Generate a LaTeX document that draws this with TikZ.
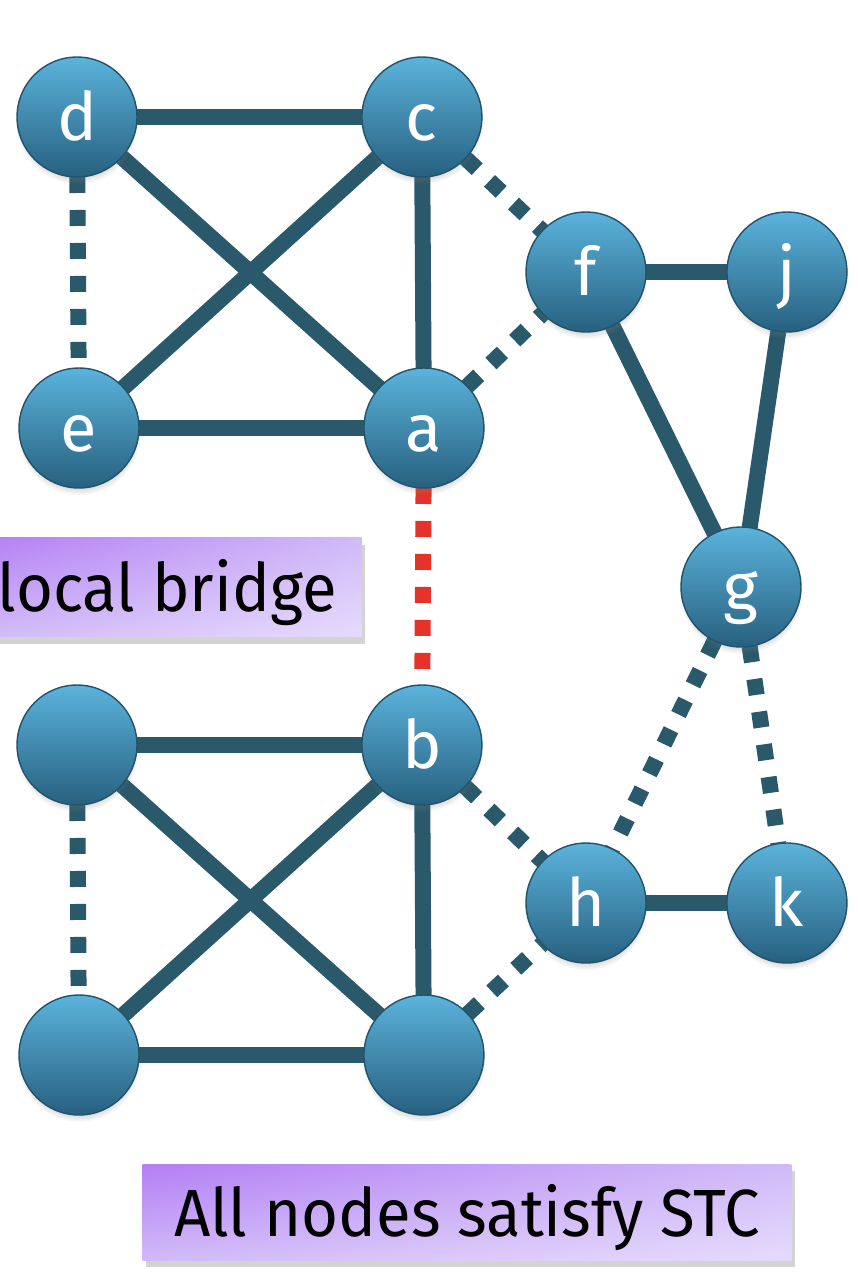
\documentclass[tikz,border=0pt]{standalone}
\usepackage{fontspec}
\setmainfont{Fira Sans}
\newfontfamily\tagfont[FakeStretch=0.95]{Fira Sans}
\usetikzlibrary{positioning, shadows, shadings, backgrounds}
\definecolor{ballTop}{HTML}{5BB3DC}
\definecolor{ballBottom}{HTML}{27607F}
\definecolor{ballEdge}{HTML}{22536A}
\definecolor{tieColor}{HTML}{29596B}
\definecolor{bridgeRed}{HTML}{E63329}
\definecolor{tagDark}{HTML}{B47EF4}
\definecolor{tagMid}{HTML}{D0BAF8}
\definecolor{tagLight}{HTML}{E6DBFC}
\tikzset{
  vertex/.style={circle, draw=ballEdge, line width=0.8pt, minimum size=2.4cm,
    inner sep=0pt, outer sep=0pt, top color=ballTop, bottom color=ballBottom,
    text=white, font=\fontsize{38}{40}\selectfont, text height=0.94cm, text depth=0pt,
    circular drop shadow={shadow xshift=0pt, shadow yshift=-3pt, opacity=0.35, shadow scale=1.03}},
  tie/.style={draw=tieColor, line width=0.32cm},
  weak/.style={tie, dash pattern=on 0.32cm off 0.34cm},
  bridge/.style={weak, draw=bridgeRed},
  tag/.style={rectangle, upper left=tagDark, upper right=tagMid, lower left=tagMid,
    lower right=tagLight,
    font=\tagfont\fontsize{38}{40}\selectfont, text height=0.96cm, text depth=0pt,
    drop shadow={shadow xshift=2pt, shadow yshift=-4pt, opacity=0.35}}
}
\begin{document}
\begin{tikzpicture}[x=0.02cm, y=-0.02cm]
  \useasboundingbox (0,0) rectangle (858,1276);
  % upper group
  \node[vertex] (d) at (77,117) {d};
  \node[vertex, right=4.5cm of d] (c) {c};
  \node[vertex] (e) at (79,428) {e};
  \node[vertex, right=4.5cm of e] (a) {a};
  % right side
  \node[vertex] (f) at (586,272) {f};
  \node[vertex, right=1.62cm of f] (j) {j};
  \node[vertex] (g) at (741,587) {g};
  \node[vertex] (h) at (586,903) {h};
  \node[vertex, right=1.62cm of h] (k) {k};
  % lower group
  \node[vertex] (u1) at (77,745) {};
  \node[vertex, right=4.5cm of u1] (b) {b};
  \node[vertex] (u3) at (79,1055) {};
  \node[vertex, right=4.5cm of u3] (u4) {};
  % labels
  \node[tag, anchor=east, minimum height=1.98cm, inner xsep=0.5cm] (lb) at (362,587) {local bridge};
  \node[tag, minimum width=12.98cm, minimum height=1.92cm] (stc) at (467,1212) {All nodes satisfy STC};

  \begin{scope}[on background layer]
    \draw[tie] (d) -- (c);
    \draw[tie] (d) -- (a);
    \draw[tie] (e) -- (c);
    \draw[tie] (e) -- (a);
    \draw[tie] (c) -- (a);
    \draw[weak] (d) -- (e);
    \draw[weak] (c) -- (f);
    \draw[weak] (a) -- (f);
    \draw[tie] (f) -- (j);
    \draw[tie] (f) -- (g);
    \draw[tie] (j) -- (g);
    \draw[bridge] (a) -- (b);
    \draw[tie] (u1) -- (b);
    \draw[tie] (u1) -- (u4);
    \draw[tie] (u3) -- (b);
    \draw[tie] (u3) -- (u4);
    \draw[tie] (b) -- (u4);
    \draw[weak] (u1) -- (u3);
    \draw[weak] (b) -- (h);
    \draw[weak] (u4) -- (h);
    \draw[weak] (g) -- (h);
    \draw[weak] (g) -- (k);
    \draw[tie] (h) -- (k);
  \end{scope}
\end{tikzpicture}
\end{document}
